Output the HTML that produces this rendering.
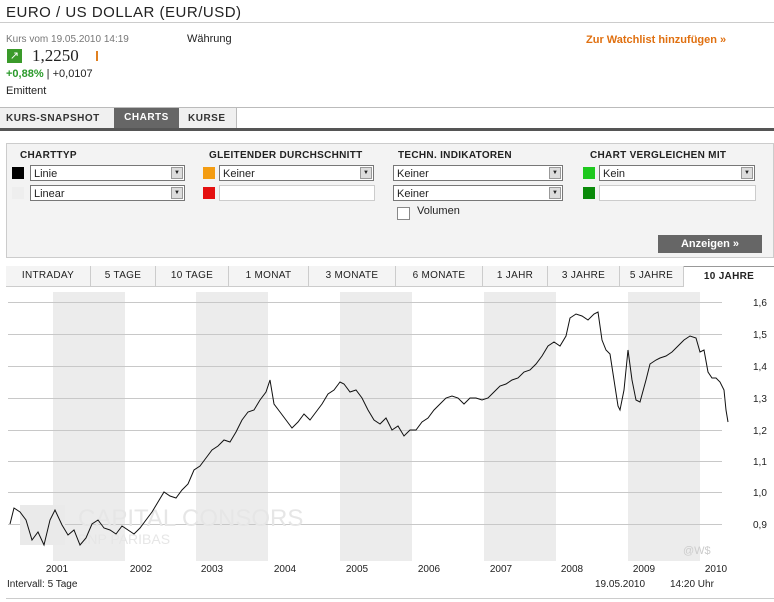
<!DOCTYPE html>
<html><head><meta charset="utf-8"><style>
body{margin:0;width:774px;height:602px;background:#fff;font-family:"Liberation Sans",Verdana,sans-serif;font-size:11px;color:#222;position:relative;overflow:hidden}
.a{position:absolute;white-space:nowrap}
.sel{position:absolute;height:16px;border:1px solid #777;background:#fff;font-size:11px;line-height:16px;padding-left:3px;box-sizing:border-box}
.sel .ar{position:absolute;right:1px;top:1px;width:12px;height:12px;background:#ddd;border:1px solid #999;box-sizing:border-box;font-size:6px;line-height:10px;text-align:center}
.inp{position:absolute;height:16px;border:1px solid #ccc;background:#fff;box-sizing:border-box}
.h{position:absolute;font-weight:bold;font-size:10px;letter-spacing:.3px}
.sq{position:absolute;width:12px;height:12px}
.tab{position:absolute;top:266px;height:20px;line-height:20px;text-align:center;font-size:10px;border-right:1px solid #ccc;background:#f4f4f4;letter-spacing:.3px}
</style></head><body>
<div class="a" style="left:6px;top:4px;font-size:15px;letter-spacing:.5px">EURO / US DOLLAR (EUR/USD)</div>
<div class="a" style="left:0;top:22px;width:774px;height:1px;background:#ccc"></div>
<div class="a" style="left:6px;top:34px;font-size:10px;color:#777">Kurs vom 19.05.2010 14:19</div>
<div class="a" style="left:187px;top:33px;font-size:11px">Währung</div>
<div class="a" style="left:586px;top:34px;font-size:11px;color:#e07010;font-weight:bold">Zur Watchlist hinzufügen »</div>
<div class="a" style="left:7px;top:49px;width:15px;height:14px;background:#3a9a2a;color:#fff;font-size:11px;line-height:14px;text-align:center">↗</div>
<div class="a" style="left:32px;top:46px;font-size:17px;font-family:'Liberation Serif',serif">1,2250</div>
<div class="a" style="left:96px;top:51px;width:2px;height:10px;background:#e08020"></div>
<div class="a" style="left:6px;top:68px;font-size:11px"><b style="color:#2a9a2a">+0,88%</b> | +0,0107</div>
<div class="a" style="left:6px;top:85px">Emittent</div>
<div class="a" style="left:0;top:107px;width:774px;height:1px;background:#bbb"></div>
<div class="a" style="left:0;top:108px;width:236px;height:20px;background:#f0f0f0;border-right:1px solid #bbb"></div>
<div class="a" style="left:6px;top:113px;font-size:10px;font-weight:bold;color:#333;letter-spacing:.5px">KURS-SNAPSHOT</div>
<div class="a" style="left:114px;top:108px;width:65px;height:20px;background:#666;color:#fff;font-size:10px;font-weight:bold;line-height:20px;text-align:center;letter-spacing:.5px">CHARTS</div>
<div class="a" style="left:188px;top:113px;font-size:10px;font-weight:bold;color:#333;letter-spacing:.5px">KURSE</div>
<div class="a" style="left:0;top:128px;width:774px;height:3px;background:#555"></div>
<div class="a" style="left:6px;top:143px;width:768px;height:115px;background:#f3f3f3;border:1px solid #ccc;box-sizing:border-box"></div>
<div class="h" style="left:20px;top:150px">CHARTTYP</div>
<div class="h" style="left:209px;top:150px">GLEITENDER DURCHSCHNITT</div>
<div class="h" style="left:398px;top:150px">TECHN. INDIKATOREN</div>
<div class="h" style="left:590px;top:150px">CHART VERGLEICHEN MIT</div>
<div class="sq" style="left:12px;top:167px;background:#000"></div>
<div class="sq" style="left:12px;top:187px;background:#eee"></div>
<div class="sq" style="left:203px;top:167px;background:#f39c12"></div>
<div class="sq" style="left:203px;top:187px;background:#e41010"></div>
<div class="sq" style="left:583px;top:167px;background:#1ec81e"></div>
<div class="sq" style="left:583px;top:187px;background:#0a8a0a"></div>
<div class="sel" style="left:30px;top:165px;width:155px">Linie<span class="ar">▼</span></div>
<div class="sel" style="left:30px;top:185px;width:155px">Linear<span class="ar">▼</span></div>
<div class="sel" style="left:219px;top:165px;width:155px">Keiner<span class="ar">▼</span></div>
<div class="inp" style="left:219px;top:185px;width:156px"></div>
<div class="sel" style="left:393px;top:165px;width:170px">Keiner<span class="ar">▼</span></div>
<div class="sel" style="left:393px;top:185px;width:170px">Keiner<span class="ar">▼</span></div>
<div class="sel" style="left:599px;top:165px;width:156px">Kein<span class="ar">▼</span></div>
<div class="inp" style="left:599px;top:185px;width:157px"></div>
<div class="a" style="left:397px;top:207px;width:11px;height:11px;border:1px solid #888;background:#fff"></div>
<div class="a" style="left:417px;top:205px">Volumen</div>
<div class="a" style="left:658px;top:235px;width:104px;height:18px;background:#666;color:#fff;font-weight:bold;font-size:11px;line-height:18px;text-align:center">Anzeigen »</div>
<div class="a" style="left:6px;top:286px;width:768px;height:1px;background:#ccc"></div>
<div class="tab" style="left:6px;width:84px">INTRADAY</div>
<div class="tab" style="left:91px;width:64px">5 TAGE</div>
<div class="tab" style="left:156px;width:72px">10 TAGE</div>
<div class="tab" style="left:229px;width:79px">1 MONAT</div>
<div class="tab" style="left:309px;width:86px">3 MONATE</div>
<div class="tab" style="left:396px;width:86px">6 MONATE</div>
<div class="tab" style="left:483px;width:64px">1 JAHR</div>
<div class="tab" style="left:548px;width:71px">3 JAHRE</div>
<div class="tab" style="left:620px;width:63px">5 JAHRE</div>
<div class="tab" style="left:684px;width:90px;background:#fff;font-weight:bold;border-top:1px solid #999;height:21px">10 JAHRE</div>
<svg class="a" style="left:0;top:287px" width="774" height="315" viewBox="0 287 774 315">
<g fill="#ececec"><rect x="53" y="292" width="72" height="269"/><rect x="196" y="292" width="72" height="269"/><rect x="340" y="292" width="72" height="269"/><rect x="484" y="292" width="72" height="269"/><rect x="628" y="292" width="72" height="269"/></g>
<g stroke="#c8c8c8" stroke-width="1"><line x1="8" x2="722" y1="302.5" y2="302.5"/><line x1="8" x2="722" y1="334.5" y2="334.5"/><line x1="8" x2="722" y1="366.5" y2="366.5"/><line x1="8" x2="722" y1="398.5" y2="398.5"/><line x1="8" x2="722" y1="430.5" y2="430.5"/><line x1="8" x2="722" y1="461.5" y2="461.5"/><line x1="8" x2="722" y1="492.5" y2="492.5"/><line x1="8" x2="722" y1="524.5" y2="524.5"/></g>
<text x="78" y="526" font-family="Liberation Sans,sans-serif" font-size="24" fill="#e6e6e6">CAPITAL CONSORS</text>
<text x="78" y="544" font-family="Liberation Sans,sans-serif" font-size="14" fill="#e6e6e6">BNP PARIBAS</text>
<rect x="20" y="505" width="45" height="40" fill="#eaeaea"/>
<text x="683" y="554" font-family="Liberation Sans,sans-serif" font-size="11" fill="#ccc">@W$</text>
<polyline fill="none" stroke="#111" stroke-width="1" points="10,524 14,508 20,512 26,520 32,540 38,532 44,545 50,520 55,510 62,525 68,535 74,530 80,545 86,538 92,524 98,520 104,528 110,530 116,534 122,526 128,530 134,534 140,528 146,520 152,512 158,502 164,492 170,496 176,498 182,490 188,484 194,470 200,466 206,458 212,450 218,446 224,440 230,442 236,432 242,420 248,412 254,410 260,400 266,392 270,380 274,404 280,412 286,420 292,428 298,422 304,414 310,420 316,412 322,404 328,394 334,390 340,382 344,384 350,392 356,390 362,398 368,410 374,420 380,424 386,418 392,430 398,426 404,436 410,430 416,430 422,422 428,418 434,410 440,404 446,398 452,396 458,398 464,404 470,398 476,398 482,400 488,398 494,392 500,386 506,384 512,380 518,378 524,372 530,370 536,364 542,356 548,346 554,342 560,346 566,336 570,318 576,314 582,316 588,320 594,314 598,312 602,340 606,350 610,354 614,380 618,406 620,410 624,390 628,350 632,380 636,400 640,402 646,380 650,364 656,360 660,358 666,356 672,352 678,346 684,340 690,336 696,338 700,352 704,350 708,372 712,378 716,378 720,382 724,390 726,410 728,422"/>
<g font-family="Liberation Sans,sans-serif" font-size="10" fill="#222">
<text x="753" y="306">1,6</text><text x="753" y="338">1,5</text><text x="753" y="370">1,4</text><text x="753" y="402">1,3</text><text x="753" y="434">1,2</text><text x="753" y="465">1,1</text><text x="753" y="496">1,0</text><text x="753" y="528">0,9</text>
<g text-anchor="middle"><text x="57" y="572">2001</text><text x="141" y="572">2002</text><text x="212" y="572">2003</text><text x="285" y="572">2004</text><text x="357" y="572">2005</text><text x="429" y="572">2006</text><text x="501" y="572">2007</text><text x="572" y="572">2008</text><text x="644" y="572">2009</text><text x="716" y="572">2010</text></g>
<text x="7" y="587">Intervall: 5 Tage</text><text x="595" y="587">19.05.2010</text><text x="670" y="587">14:20 Uhr</text>
</g>
<line x1="6" x2="774" y1="598.5" y2="598.5" stroke="#ccc"/>
</svg>
</body></html>
